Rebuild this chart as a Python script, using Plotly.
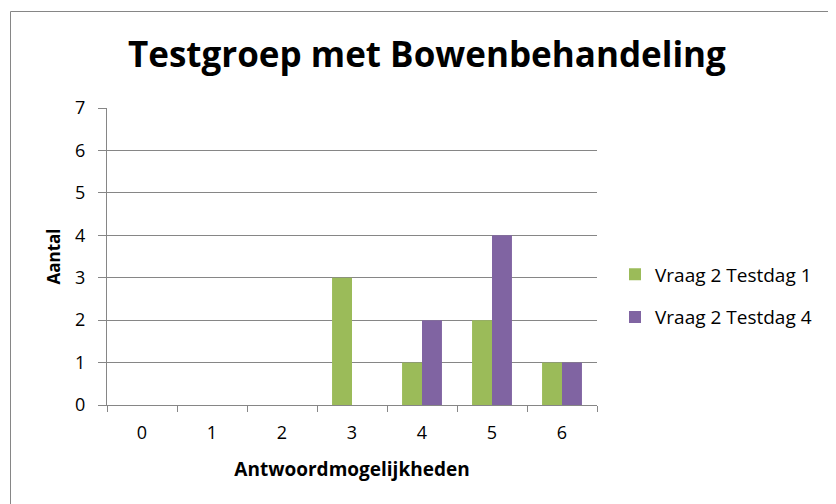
import plotly.graph_objects as go

categories = ["0", "1", "2", "3", "4", "5", "6"]
series1_name = "Vraag 2 Testdag 1"
series1 = [0, 0, 0, 3, 1, 2, 1]
series2_name = "Vraag 2 Testdag 4"
series2 = [0, 0, 0, 0, 2, 4, 1]
title = "Testgroep met Bowenbehandeling"
x_title = "Antwoordmogelijkheden"
y_title = "Aantal"

# the page body adds an 8px offset; figure coordinates = screen - 8
W, H = 828, 496
L, R, T, B = 99, 589, 100, 397

fig = go.Figure()
fig.add_trace(go.Bar(x=categories, y=series1, name=series1_name,
                     marker=dict(color="#9BBB59", line=dict(width=0)),
                     legendgroup="a"))
fig.add_trace(go.Bar(x=categories, y=series2, name=series2_name,
                     marker=dict(color="#8064A2", line=dict(width=0)),
                     legendgroup="b"))

font_family = "'Open Sans', Lato, sans-serif"

def px(x):
    return (x - L) / (R - L)

def py(y):
    return (B - y) / (B - T)

fig.update_layout(
    width=W, height=H,
    margin=dict(l=L, r=W - R, t=T, b=H - B, pad=0),
    paper_bgcolor="white", plot_bgcolor="white",
    barmode="group", bargap=0.43, bargroupgap=0,
    font=dict(family=font_family, color="black", size=18),
    showlegend=True,
    legend=dict(x=px(607), xanchor="left", y=py(288), yanchor="middle",
                font=dict(size=19, family=font_family), tracegroupgap=15,
                bgcolor="rgba(0,0,0,0)", itemwidth=30),
    xaxis=dict(type="category", showline=True, linecolor="#868686", linewidth=1,
               ticks="outside", tickson="boundaries", ticklen=6, tickcolor="#868686",
               showgrid=False, tickfont=dict(size=18), ticklabelstandoff=11,
               title=dict(text="<b>" + x_title + "</b>", font=dict(size=19), standoff=20)),
    yaxis=dict(range=[0, 7], dtick=1, showline=True, linecolor="#868686", linewidth=1,
               ticks="outside", ticklen=8, tickcolor="#868686",
               showgrid=True, gridcolor="#868686", gridwidth=1, zeroline=False,
               tickfont=dict(size=18), ticklabelstandoff=9,
               title=dict(text="<b>" + y_title + "</b>", font=dict(size=17), standoff=10)),
    annotations=[dict(text="<b>" + title + "</b>", xref="paper", yref="paper",
                      x=px(419), y=py(46), xanchor="center", yanchor="middle",
                      showarrow=False, font=dict(size=35, family=font_family, color="black"))],
    shapes=[dict(type="rect", xref="paper", yref="paper",
                 x0=px(2.5), x1=px(W + 20), y0=py(H + 20), y1=py(3.5),
                 line=dict(color="#868686", width=1), fillcolor="rgba(0,0,0,0)", layer="below")],
)

fig.write_html("out.html")
